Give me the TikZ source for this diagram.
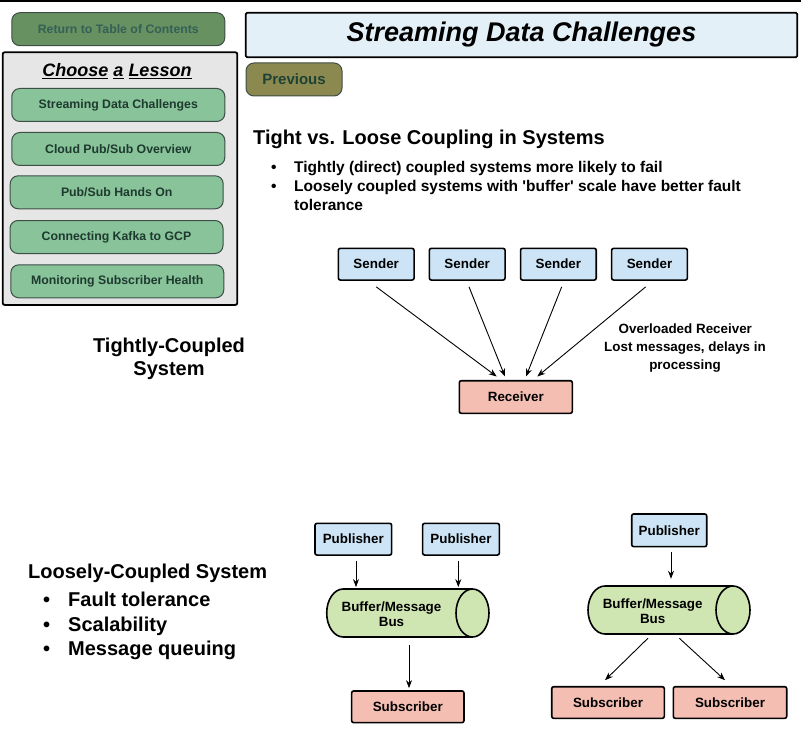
\documentclass[tikz,border=0pt]{standalone}
\usepackage{fontspec}
\setmainfont{Liberation Sans}
\usetikzlibrary{arrows.meta}

\definecolor{navgreen}{RGB}{104,145,98}
\definecolor{navtext}{RGB}{52,96,86}
\definecolor{lessonfill}{RGB}{136,195,154}
\definecolor{lessontext}{RGB}{30,58,46}
\definecolor{btnline}{RGB}{62,78,70}
\definecolor{prevfill}{RGB}{139,137,80}
\definecolor{prevtext}{RGB}{30,66,52}
\definecolor{titlefill}{RGB}{228,240,248}
\definecolor{panelfill}{RGB}{230,230,230}
\definecolor{senderfill}{RGB}{204,228,245}
\definecolor{recvfill}{RGB}{244,190,178}
\definecolor{busfill}{RGB}{208,230,178}

\newcommand\fs[1]{\fontsize{#1}{1.2\dimexpr#1pt\relax}\selectfont}

\begin{document}
\begin{tikzpicture}[x=1pt,y=-1pt,
  navbtn/.style={draw=btnline, line width=1pt, rounded corners=8pt,
    minimum width=213pt, minimum height=33pt, inner sep=0pt,
    font=\bfseries\fs{12.3}},
  lessonbtn/.style={navbtn, fill=lessonfill, text=lessontext},
  block/.style={draw=black, line width=1.6pt, rounded corners=2pt,
    inner sep=0pt, font=\bfseries\fs{13.4}},
  sender/.style={block, fill=senderfill, minimum width=75.7pt, minimum height=31.7pt},
  receiver/.style={block, fill=recvfill, minimum width=113pt, minimum height=32.6pt},
  busline/.style={draw=black, line width=1.6pt},
  plain/.style={inner sep=0pt, font=\bfseries\fs{13.4}},
  conn/.style={-{Stealth[length=8pt,width=6pt]}, line width=0.9pt},
  heading/.style={inner sep=0pt, anchor=base west, font=\bfseries\fs{20}},
  point/.style={inner sep=0pt, anchor=base west, font=\bfseries\fs{15.5}},
  bigpoint/.style={inner sep=0pt, anchor=base west, font=\bfseries\fs{20}}
]
\useasboundingbox (0,0) rectangle (801,733);
\fill[black] (0,0) rectangle (801,2);

% navigation column
\node[navbtn, fill=navgreen, text=navtext] (toc) at (118.3,29.2) {Return to Table of Contents};
\node[draw=black, line width=1.8pt, fill=panelfill, rounded corners=2pt,
      minimum width=234.6pt, minimum height=252.7pt, inner sep=0pt] (panel) at (120,178.6) {};
\node[inner sep=0pt, anchor=base, font=\bfseries\itshape\fs{18}] (choose) at (117,77)
  {\underline{Choose} \underline{a} \underline{Lesson}};
\node[lessonbtn] (l1) at (118.3,105) {Streaming Data Challenges};
\node[lessonbtn] (l2) at (118.3,149) {Cloud Pub/Sub Overview};
\node[lessonbtn] (l3) at (116.7,192.3) {Pub/Sub Hands On};
\node[lessonbtn] (l4) at (116.5,237) {Connecting Kafka to GCP};
\node[lessonbtn] (l5) at (117.3,281.3) {Monitoring Subscriber Health};

% page title and navigation
\node[draw=black, line width=1.8pt, fill=titlefill, rounded corners=1.5pt,
      minimum width=551.5pt, minimum height=44.6pt, inner sep=0pt,
      font=\bfseries\itshape\fs{27}] (title) at (521.5,35) {Streaming Data Challenges};
\node[navbtn, fill=prevfill, text=prevtext, minimum width=96pt, minimum height=33pt,
      font=\bfseries\fs{15}] (prev) at (294,79.5) {Previous};

% introduction
\node[heading] (intro) at (253,145) {Tight vs. Loose Coupling in Systems};
\node[point] (b1) at (271,172.5) {•};
\node[point] (t1) at (294,172.5) {Tightly (direct) coupled systems more likely to fail};
\node[point] (b2) at (271,191.5) {•};
\node[point] (t2) at (294,191.5) {Loosely coupled systems with \textquotesingle buffer\textquotesingle{} scale have better fault};
\node[point] (t3) at (294,210.5) {tolerance};

% tightly coupled system
\node[inner sep=0pt, align=center, font=\bfseries\fontsize{20}{23}\selectfont] (tight) at (169,359)
  {Tightly-Coupled\\System};
\node[sender] (s1) at (376.2,264.2) {Sender};
\node[sender] (s2) at (467.2,264.2) {Sender};
\node[sender] (s3) at (558.4,264.2) {Sender};
\node[sender] (s4) at (649.5,264.2) {Sender};
\node[receiver] (r) at (515.8,397) {Receiver};
\draw[conn] ([yshift=-6pt]s1.south) -- ([xshift=-19.1pt,yshift=3.4pt]r.north);
\draw[conn] ([xshift=1.8pt,yshift=-6pt]s2.south) -- ([xshift=-10.8pt,yshift=3.4pt]r.north);
\draw[conn] ([xshift=3.3pt,yshift=-6pt]s3.south) -- ([xshift=10.2pt,yshift=3.4pt]r.north);
\draw[conn] ([xshift=-3.8pt,yshift=-6pt]s4.south) -- ([xshift=21.5pt,yshift=3.4pt]r.north);
\node[plain] (over) at (685.3,328.3) {Overloaded Receiver};
\node[plain, align=center, font=\bfseries\fontsize{13.4}{17.6}\selectfont] (lost) at (685,357.2)
  {Lost messages, delays in\\processing};

% loosely coupled system
\node[bigpoint] (loose) at (28,578) {Loosely-Coupled System};
\node[bigpoint] (lb1) at (43,606) {•};
\node[bigpoint] (lt1) at (68,606) {Fault tolerance};
\node[bigpoint] (lb2) at (43,631) {•};
\node[bigpoint] (lt2) at (68,631) {Scalability};
\node[bigpoint] (lb3) at (43,655) {•};
\node[bigpoint] (lt3) at (68,655) {Message queuing};

% one subscriber behind a message bus
\node[sender, minimum width=76.7pt] (p1) at (353.3,539.2) {Publisher};
\node[sender, minimum width=76.7pt] (p2) at (461,539.2) {Publisher};
\draw[busline, fill=busfill] (343.2,589) -- (472.5,589)
  arc[start angle=90, end angle=-90, x radius=16.5pt, y radius=24pt] -- (343.2,637)
  arc[start angle=270, end angle=90, x radius=16.5pt, y radius=24pt] -- cycle;
\draw[busline] (472.5,589) arc[start angle=90, end angle=270, x radius=16.5pt, y radius=24pt];
\node[inner sep=0pt, minimum width=162.3pt, minimum height=48pt] (bus1) at (407.8,613) {};
\node[plain, align=center, font=\bfseries\fontsize{13.4}{15}\selectfont] (bus1txt) at (391.5,614.5)
  {Buffer/Message\\Bus};
\node[receiver, minimum width=112.3pt, minimum height=31.7pt] (sub1) at (407.8,706.8) {Subscriber};
\coordinate (p1o) at ([xshift=2.7pt,yshift=-5pt]p1.south);
\coordinate (p2o) at ([xshift=-2.7pt,yshift=-5pt]p2.south);
\coordinate (bus1top) at ([yshift=1.7pt]bus1.north);
\draw[conn] (p1o) -- (p1o |- bus1top);
\draw[conn] (p2o) -- (p2o |- bus1top);
\draw[conn] ([xshift=1.2pt,yshift=-8pt]bus1.south) -- ([xshift=1.2pt,yshift=2pt]sub1.north);

% two subscribers behind a message bus
\node[sender, minimum width=75pt, minimum height=32.7pt] (p3) at (669.2,530.3) {Publisher};
\draw[busline, fill=busfill] (605,586) -- (733,586)
  arc[start angle=90, end angle=-90, x radius=17pt, y radius=24pt] -- (605,634)
  arc[start angle=270, end angle=90, x radius=17pt, y radius=24pt] -- cycle;
\draw[busline] (733,586) arc[start angle=90, end angle=270, x radius=17pt, y radius=24pt];
\node[inner sep=0pt, minimum width=162pt, minimum height=48pt] (bus2) at (669,610) {};
\node[plain, align=center, font=\bfseries\fontsize{13.4}{15}\selectfont] (bus2txt) at (652.7,611.5)
  {Buffer/Message\\Bus};
\node[receiver, minimum width=112.6pt, minimum height=31.6pt] (sub2) at (608,702.5) {Subscriber};
\node[receiver, minimum width=113.4pt, minimum height=31.6pt] (sub3) at (730,702.5) {Subscriber};
\draw[conn] ([xshift=1.8pt,yshift=-5pt]p3.south) -- ([xshift=2pt,yshift=7pt]bus2.north);
\draw[conn] ([xshift=-21pt,yshift=-4pt]bus2.south) -- ([xshift=-3pt,yshift=5.7pt]sub2.north);
\draw[conn] ([xshift=10.3pt,yshift=-4pt]bus2.south) -- ([xshift=-5pt,yshift=5.7pt]sub3.north);
\end{tikzpicture}
\end{document}
